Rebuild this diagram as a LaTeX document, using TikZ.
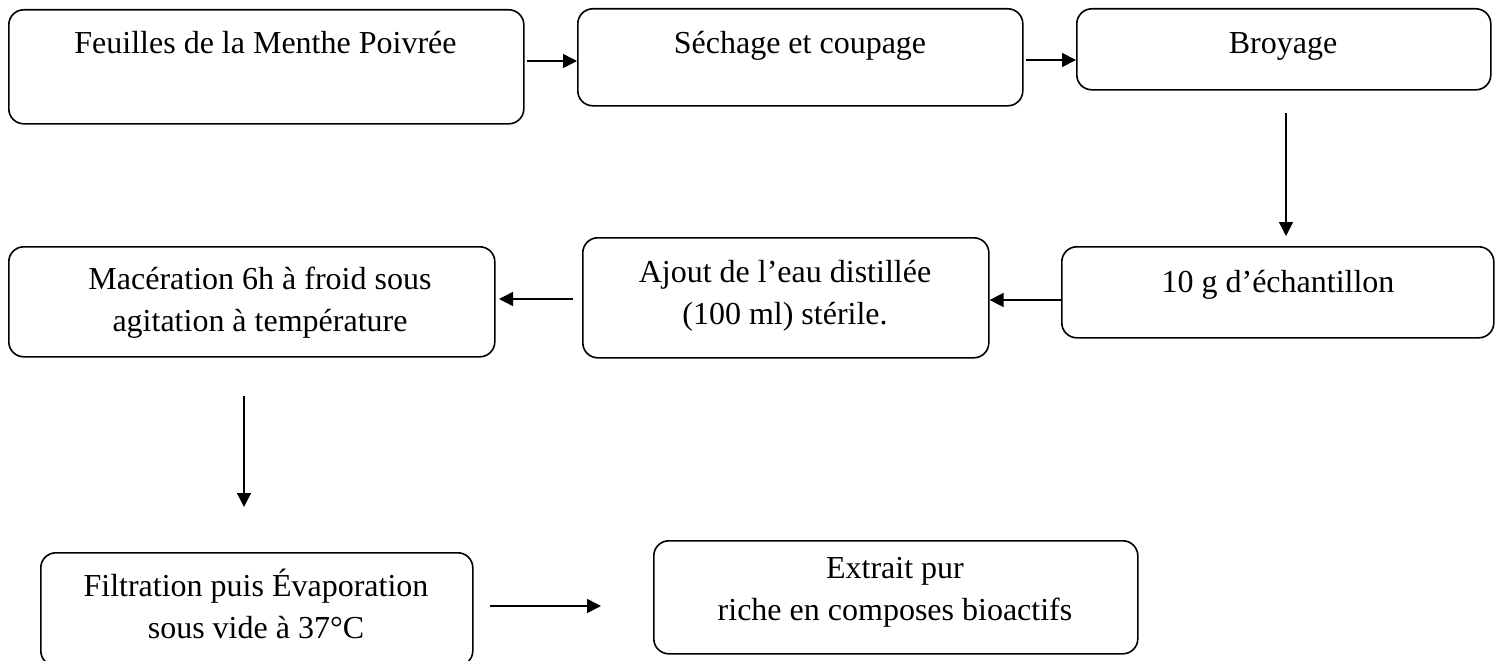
\documentclass[tikz,border=0pt]{standalone}
\usepackage{fontspec}
\setmainfont{Liberation Serif}
\usetikzlibrary{arrows.meta,calc}
\begin{document}
\begin{tikzpicture}[x=1pt,y=-1pt,
  box/.style={draw, line width=1.6pt, rounded corners=15pt, inner sep=0pt, anchor=north west},
  lbl/.style={align=center, inner sep=0pt, font=\fontsize{32}{42}\selectfont,
    execute at begin node=\strut, execute at end node=\strut},
  arr/.style={line width=1.5pt, -{Triangle[length=14pt,width=14pt]}}]
\useasboundingbox (0,0) rectangle (1496,661);
% boxes
\node[box, minimum width=515pt, minimum height=114pt] (b1) at (8,9) {};
\node[box, minimum width=445pt, minimum height=97pt] (b2) at (577,8) {};
\node[box, minimum width=414pt, minimum height=81pt] (b3) at (1076,8) {};
\node[box, minimum width=432pt, minimum height=91pt] (b4) at (1061,246) {};
\node[box, minimum width=406pt, minimum height=120pt] (b5) at (582,237) {};
\node[box, minimum width=486pt, minimum height=110pt] (b6) at (8,246) {};
\node[box, minimum width=432pt, minimum height=113pt] (b7) at (40,552) {};
\node[box, minimum width=484pt, minimum height=113pt] (b8) at (653,540) {};
% labels
\node[lbl] (t1) at (265.5,44.6) {Feuilles de la Menthe Poivrée};
\node[lbl] (t2) at (800,44.6) {Séchage et coupage};
\node[lbl] (t3) at (1283,44.6) {Broyage};
\node[lbl] (t4) at (1278,283.6) {10 g d’échantillon};
\node[lbl] (t5) at (785,298.6) {Ajout de l’eau distillée\\(100 ml) stérile.};
\node[lbl] (t6) at (260,305.6) {Macération 6h à froid sous\\agitation à température};
\node[lbl] (t7) at (256,609.6) {Filtration puis Évaporation\\sous vide à 37°C};
\node[lbl] (t8) at (895,595.6) {Extrait pur\\riche en composes bioactifs};
% arrow end points
\coordinate (a1) at (527,61);
\coordinate (a2) at (1026,60);
\coordinate (a3s) at (1286,113);
\coordinate (a3e) at (1286,236);
\coordinate (a4) at (1061,300);
\coordinate (a5s) at (573,299);
\coordinate (a5e) at (499,299);
\coordinate (a6s) at (244,396);
\coordinate (a6e) at (244,507);
\coordinate (a7s) at (490,606);
\coordinate (a7e) at (601,606);
% arrows
\draw[arr] (a1) -- (a1 -| b2.west);
\draw[arr] (a2) -- (a2 -| b3.west);
\draw[arr] (a3s) -- (a3e);
\draw[arr] (a4 -| b4.west) -- (a4 -| b5.east);
\draw[arr] (a5s) -- (a5e);
\draw[arr] (a6s) -- (a6e);
\draw[arr] (a7s) -- (a7e);
\end{tikzpicture}
\end{document}
